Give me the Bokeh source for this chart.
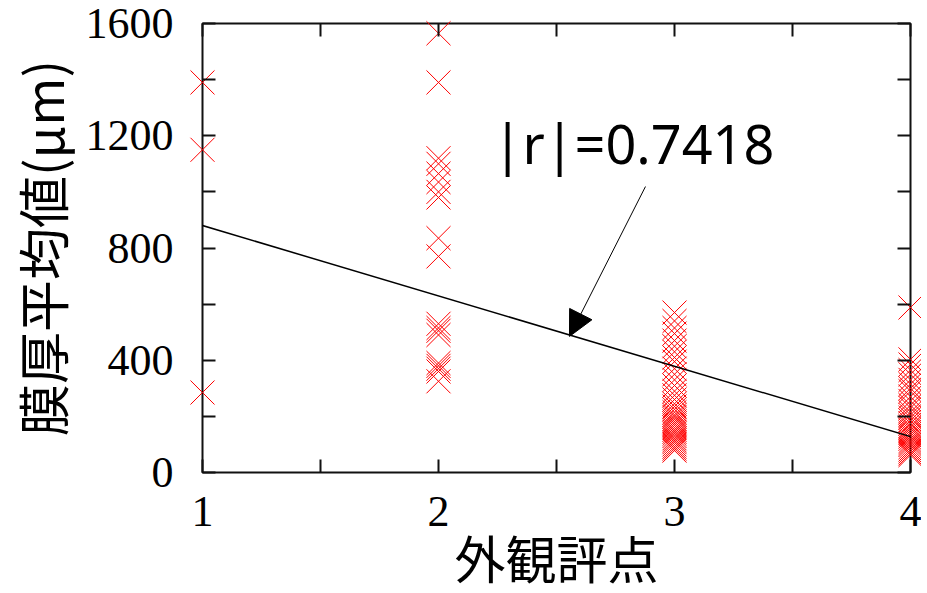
from bokeh.plotting import figure
from bokeh.models import (LinearAxis, FixedTicker, Slope, Arrow, NormalHead, Label,
                          Range1d, ColumnDataSource)
from bokeh.embed import file_html
from bokeh.resources import INLINE

# ---- data ----
x_major = [1, 2, 3, 4]
x_minor = [1.5, 2.5, 3.5]
x_tick_labels = ["1", "2", "3", "4"]
y_major = [0, 400, 800, 1200, 1600]
y_minor = [200, 600, 1000, 1400]
y_tick_labels = ["0", "400", "800", "1200", "1600"]

score_1 = [1390, 1150, 285]
score_2 = [1565, 1390, 1120, 1100, 1065, 1035, 1000, 980, 835, 770,
           530, 515, 505, 490, 390, 380, 370, 360, 325]
score_3 = [570, 540, 515, 495, 470, 450, 430, 410, 395, 370, 350, 330, 310,
           290, 275, 260, 245, 235, 225, 215, 205, 198, 190, 182, 175, 168,
           160, 152, 145, 138, 130, 122, 115, 108, 100, 92, 85, 78]
score_4 = [588, 403, 385, 365, 350, 330, 315, 300, 290, 270, 255, 240, 230,
           215, 205, 195, 185, 175, 165, 158, 150, 142, 135, 128, 120, 112,
           105, 98, 90, 82, 75, 68, 62]

fit_slope = -250.7
fit_intercept = 1130.7
r_text = "|r|=0.7418"
r_label_pos = (2.23, 1175)
arrow_from = (2.877, 1019)
arrow_to = (2.555, 485)

x_title = "外観評点"
y_title = "膜厚平均値(μm)"

groups = [(1, score_1), (2, score_2), (3, score_3), (4, score_4)]
xs, ys = [], []
for g, vals in groups:
    xs += [g] * len(vals)
    ys += vals
src = ColumnDataSource(dict(x=xs, y=ys))

# ---- figure ----
p = figure(frame_width=708, frame_height=449,
           x_range=Range1d(1, 4), y_range=Range1d(0, 1600),
           output_backend="svg", toolbar_location=None,
           min_border_left=192, min_border_right=11,
           min_border_top=23, min_border_bottom=100,
           background_fill_color="white", border_fill_color="white")
p.grid.visible = False
p.outline_line_color = "#111111"
p.outline_line_width = 2

def style_axis(ax, major, minor):
    ax.ticker = FixedTicker(ticks=major, minor_ticks=minor)
    for kind in ("major", "minor"):
        setattr(ax, kind + "_tick_in", 13)
        setattr(ax, kind + "_tick_out", 0)
        setattr(ax, kind + "_tick_line_width", 2)
        setattr(ax, kind + "_tick_line_color", "#111111")
    ax.axis_line_color = None
    ax.major_label_text_font = "Liberation Serif"
    ax.major_label_text_font_size = "44px"
    ax.major_label_text_color = "black"

xa = p.xaxis[0]
ya = p.yaxis[0]
style_axis(xa, x_major, x_minor)
style_axis(ya, y_major, y_minor)
xa.major_label_overrides = dict(zip(x_major, x_tick_labels))
ya.major_label_overrides = dict(zip(y_major, y_tick_labels))
xa.major_label_standoff = 24
ya.major_label_standoff = 29
xa.axis_label = x_title
ya.axis_label = y_title
for ax in (xa, ya):
    ax.axis_label_text_font = "Noto Sans CJK JP"
    ax.axis_label_text_font_style = "normal"
    ax.axis_label_text_color = "black"
xa.axis_label_text_font_size = "51px"
ya.axis_label_text_font_size = "52px"
xa.axis_label_standoff = -9
ya.axis_label_standoff = 4

# mirrored ticks on top and right (ticks only, no labels)
top = LinearAxis()
style_axis(top, [], x_major + x_minor)
top.major_label_standoff = 0
p.add_layout(top, "above")
right = LinearAxis()
style_axis(right, [], y_major + y_minor)
right.major_label_standoff = 0
p.add_layout(right, "right")

p.scatter("x", "y", source=src, marker="x", size=34, line_color="#ff0000",
          line_width=1, level="guide")

p.add_layout(Slope(gradient=fit_slope, y_intercept=fit_intercept,
                   line_color="black", line_width=1.5))

p.add_layout(Arrow(end=NormalHead(size=25, fill_color="black", line_color="black"),
                   x_start=arrow_from[0], y_start=arrow_from[1],
                   x_end=arrow_to[0], y_end=arrow_to[1],
                   line_color="black", line_width=1))

p.add_layout(Label(x=r_label_pos[0], y=r_label_pos[1], text=r_text,
                   text_font="Noto Sans", text_font_size="54px",
                   text_baseline="alphabetic", text_color="black"))

open("out.html", "w").write(file_html(p, INLINE))
